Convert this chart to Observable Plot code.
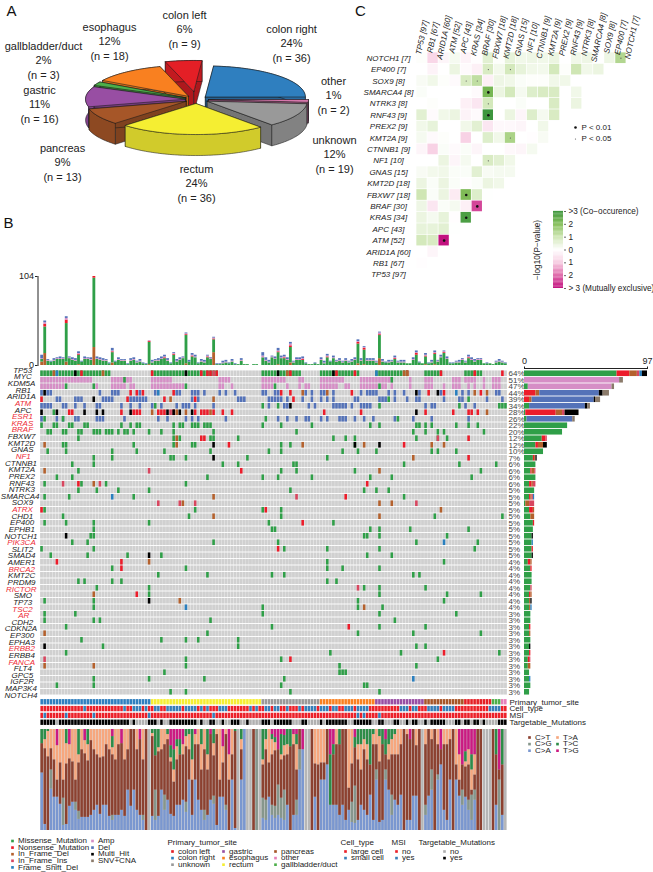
<!DOCTYPE html>
<html><head><meta charset="utf-8">
<title>Pie, oncoprint and co-occurrence chart</title>
<script src="https://cdn.jsdelivr.net/npm/d3@7"></script>
<script src="https://cdn.jsdelivr.net/npm/@observablehq/plot@0.6"></script>
<style>html,body{margin:0;padding:0;background:#fff}#page{position:relative;width:653px;height:872px;overflow:hidden}#page svg{position:absolute;overflow:visible}</style>
</head><body><div id="page"></div>
<script>
/* ---------- DATA ---------- */
const siteNames  = ["colon right","other","unknown","rectum","pancreas","gastric","gallbladder/duct","esophagus","colon left"];
const siteCounts = [36,2,19,36,13,16,3,18,9];
const sitePct    = [24,1,12,24,9,11,2,12,6];
const siteColors = ["#2f7fbf","#e67fb8","#999999","#f5ee32","#a65628","#984ea3","#4daf4a","#f98020","#e41f26"];
const sliceExplode = [12,12,12,13,12,11,12,13,26];
const sliceOrder = [8,0,7,6,5,1,2,4,3];
const trackOrder = ["colon right","rectum","unknown","esophagus","gastric","pancreas","colon left","gallbladder/duct","other"];

const heatCols = ["TP53","RB1","ARID1A","ATM","APC","KRAS","BRAF","FBXW7","KMT2D","GNAS","NF1","CTNNB1","KMT2A","PREX2","RNF43","NTRK3","SMARCA4","SOX9","EP400","NOTCH1"];
const heatColN = [97,67,60,52,43,34,30,18,18,15,10,9,9,9,9,8,8,8,7,7];
const heatRows = ["NOTCH1","EP400","SOX9","SMARCA4","NTRK3","RNF43","PREX2","KMT2A","CTNNB1","NF1","GNAS","KMT2D","FBXW7","BRAF","KRAS","APC","ATM","ARID1A","RB1","TP53"];
const heatRowN = [7,7,8,8,8,9,9,9,9,10,15,18,18,30,34,43,52,60,67,97];
const heatValues = [
 [.05,-.8,-.2,.2,-.25,-.05,.6,.05,.5,.3,.35,.3,.4,0,.3,.35,0,.35,1.4],
 [0,-.25,0,.4,-.1,-.3,.8,.25,.9,.5,.3,.25,.9,.05,1,.3,.4,0],
 [.15,.3,.05,-.1,.8,1.2,-.3,.35,.3,.1,.05,.05,.3,.3,0,0,0],
 [.1,0,0,0,0,-.1,2.2,.4,.9,.2,.7,.8,.8,0,.3,0],
 [0,.05,0,0,-.3,-.5,.9,0,0,.1,0,0,.8,0,.4],
 [.6,-.1,.3,.4,-.25,-.1,3,0,.4,-.2,.7,.2,.8,0],
 [.3,.5,0,0,.3,.6,-.5,-.15,-.15,-.2,0,.3,0],
 [.2,-.1,.05,0,-.9,0,.7,.3,1.5,0,-.05,.15],
 [-.2,-.9,.1,-.1,.1,-.2,0,0,-.15,-.2,.2],
 [0,0,.4,-.2,.2,0,.8,.6,.3,0],
 [.15,.25,.3,.1,.1,.6,.15,.2,.2],
 [.4,.1,.4,.1,-.05,.1,.4,.3],
 [1,.1,.4,-.4,2.1,.7,.02],
 [.35,-.5,.1,.2,-.3,-2.4],
 [.4,.2,.5,-.05,2.8],
 [.5,.5,.6,.02],
 [.9,.8,-3],
 [0,-.2],
 [-.04]
];
const starPairs = [["SMARCA4","BRAF"],["RNF43","BRAF"],["FBXW7","APC"],["BRAF","KRAS"],["KRAS","APC"],["ATM","ARID1A"]];
const smallPairs = [["NOTCH1","EP400"],["EP400","BRAF"],["EP400","KMT2D"],["SOX9","APC"],["SOX9","KRAS"],["NTRK3","BRAF"],["KMT2A","KMT2D"],["NF1","BRAF"]];
const heatTicks = [3,2,1,0,-1,-2,-3];

const genes = ["TP53","MYC","KDM5A","RB1","ARID1A","ATM","APC","ESR1","KRAS","BRAF","FBXW7","KMT2D","GNAS","NF1","CTNNB1","KMT2A","PREX2","RNF43","NTRK3","SMARCA4","SOX9","ATRX","CHD1","EP400","EPHB1","NOTCH1","PIK3CA","SLIT2","SMAD4","AMER1","BRCA2","KMT2C","PRDM9","RICTOR","SMO","TP73","TSC2","AR","CDH2","CDKN2A","EP300","EPHA3","ERBB2","ERBB4","FANCA","FLT4","GPC5","IGF2R","MAP3K4","NOTCH4"];
const genePct = [64,51,47,44,39,34,28,26,22,20,12,12,10,7,6,6,6,6,5,5,5,5,5,5,5,5,5,5,5,4,4,4,4,4,4,4,4,3,3,3,3,3,3,3,3,3,3,3,3,3];
const redGenes = ["ATM","ESR1","KRAS","BRAF","NF1","ATRX","PIK3CA","BRCA2","RICTOR","TSC2","AR","ERBB2","FANCA"];

const altNames = ["Missense_Mutation","Nonsense_Mutation","In_Frame_Del","In_Frame_Ins","Frame_Shift_Del","Amp","Del","Multi_Hit","SNV+CNA"];
const altColors = ["#2f9f48","#ec1c2a","#b4612d","#d8465f","#2a7fbe","#d68ec6","#5472b8","#000000","#8b7b6b"];

const ampCells = {
 MYC:"0-16 23-29 36-42 58-61 72-79 84 85 91-98 104-114 120 125-127 134-136 138-141 144 147-149",
 KDM5A:"0-7 18 23-27 29 30 36-46 58 59 62 72-75 80 84 86 87 91-96 99 100 104-109 111 112 114 120 125-127 131 134-136 139 141 144 147-149"};
const delCells = {
 RB1:"0 2 3 19 23-25 32 37 44 45 49-51 53 58 60 63 72 73 76 77 86 88 91 92 95 104 106-109 113 115 118 123 130 137 139 148 149",
 ARID1A:"5 6 11-13 20-23 29-34 49 51 64-66 74-78 80 85 88 91 93 95 102 103 110-112 115 119 122 123 131 136 137 145 150",
 ATM:"0-3 7 8 11 14 18 19 26 29 32 36 39 44 46-48 50 56 74 79 80 87 89 95-99 101 104-107 125 127 128 138 141",
 ESR1:"0 5 7 11 12 18-20 27 38 41 47 49 51 60 77 80 83 86 87 91 93 97-99 102 105 108 115 121 127 139"};
const missenseCells = {
 TP53:"0-22 36-57 72-84 91-103 109-119 125-130 138-143",MYC:"27 114",KDM5A:"8 17 47 76 110",ARID1A:"113 139",ATM:"37 72 77 110 136 149-151",APC:"4",ESR1:"1 7 73 116",
 KRAS:"0 4 5 9 10 14 15 26 29 31 32 43 45 46 49-51 53-55 72 78 88 107 110 122 123 125 127 135 139 142",
 BRAF:"2 3 7 8 12 13 17-19 21-23 25 27 28 30 35 39 43 56 83 121 125 129 131 144",
 FBXW7:"12 43 45 55 56 64 95 99 102 122 129 132",KMT2D:"7 8 30 43 49 50 78 81 102",GNAS:"2 8 23 31 40 55 74 78 98 103 109 127 129 135",NF1:"17 23 42 43 47 67 93",
 CTNNB1:"10 17 59 64 82 83 118 136 148",KMT2A:"12 78 83 102 143",PREX2:"5 10 54 72 77 88 107 114 140",RNF43:"1 13 21 47",NTRK3:"12 18 25 35 81 105 109 113",
 SMARCA4:"1 9 30 118",ATRX:"1 50 72 78",CHD1:"7 48 78 128 150",EP400:"1 8 17 35 74 95",EPHB1:"17 75 76 107 110 120 139",NOTCH1:"16 17 105 106 110 132",
 PIK3CA:"10 15 56 77 122 142",SLIT2:"0 17 79 93 110 141",SMAD4:"3 15 28 39 106 114",AMER1:"93 131",BRCA2:"23 47 93 98 110",KMT2C:"38 54 75 79 121 123",PRDM9:"12 14 23 26 93 96",
 RICTOR:"18 35 105 110 125",SMO:"35 110 132 143",TP73:"1 17 103 131",TSC2:"17 72 103 111",AR:"1 11 72 110 135",CDH2:"1 17 19 55 115",CDKN2A:"8 75 110 125",EP300:"54 103 121 143",
 EPHA3:"13 39 47 51 64",ERBB2:"20 64 122 125",ERBB4:"8 94 117 149",FANCA:"47 78 129",FLT4:"47 97 122",GPC5:"40 97 98 99",IGF2R:"17 35 53 79",MAP3K4:"5 17 78 105 106",NOTCH4:"42 47 81 110"};
const nonsenseCells = {
 TP53:"13 36 52 54 55 57 81 96 102 119 130 141 150",RB1:"29 31 33 43 78 81 101 126 131 143",ARID1A:"0 28 40 50 82",
 APC:"9 10 26 30-32 38-40 43 50 52-54 56 59 62 92 104 125 134 139 140 142",FBXW7:"52 53 139",KMT2D:"61 118",NF1:"139",KMT2A:"65",RNF43:"12 106",SMARCA4:"99",ATRX:"0 73",
 EP400:"85",SLIT2:"77",AMER1:"5 26",BRCA2:"26",SMO:"31",CDKN2A:"100",ERBB4:"131",FANCA:"81"};
const inFrameDelCells = {
 TP53:"4 20 80 118 119",RB1:"85 93 141 145",ARID1A:"42 56",APC:"36 44 47 55 145",KMT2D:"1 44 85 105 127 131",FBXW7:"44",NF1:"121",KMT2A:"1 110",RNF43:"17",SMARCA4:"56",
 SOX9:"46 110 114",ATRX:"130",CHD1:"56 110",AMER1:"35",SMO:"17",TP73:"45",TSC2:"105",EP300:"1",FLT4:"1 17"};
const inFrameInsCells = {TP53:"56",APC:"42",FBXW7:"129",KMT2A:"35",RNF43:"7 19",SMARCA4:"83",SOX9:"38 45 50 122",RICTOR:"103",FANCA:"1"};
const frameShiftCells = {TP53:"5 109",RB1:"38 135",SMARCA4:"23",PIK3CA:"131",TSC2:"47",IGF2R:"121"};
const multiHitCells = {
 TP53:"11 47 77 95",RB1:"1 122 129",ARID1A:"17",ATM:"81",APC:"0 5 14 18 20 29 41 43 45 49 122",KMT2D:"56 102 110",NF1:"56",NOTCH1:"8",SMAD4:"35",TP73:"35",ERBB2:"1"};

const barMissense = [73,0,3,0,0,4,1,2,34,30,14,9,15,7,9,5,9,4,8,4,1,4,5,7,7,6,6,6,6,3,5,6,6,5,4,4,4,5,5,4,4,5,4,4,3,3,4,4,5,4];
const barNonsense = [10,0,0,9,4,0,24,0,0,0,3,2,0,1,0,1,0,2,0,1,0,3,0,1,0,0,0,1,0,2,1,0,0,0,1,0,0,0,0,1,0,0,0,1,1,0,0,0,0,0];
const barInFrameDel = [6,0,0,3,2,0,5,0,0,0,0,4,0,1,0,2,0,1,0,1,3,1,3,0,0,0,0,0,0,1,0,0,0,0,1,1,1,0,0,0,1,0,0,0,0,2,0,0,0,0];
const barInFrameIns = [2,0,0,0,0,0,2,0,0,0,1,0,0,0,0,1,0,2,0,1,4,0,0,0,0,0,0,0,0,0,0,0,0,1,0,0,0,0,0,0,0,0,0,0,1,0,0,0,0,0];
const barFrameShift = [2,0,0,0,0,0,0,0,0,0,0,0,0,0,0,0,0,0,0,1,0,0,0,0,0,0,1,0,0,0,0,0,0,0,0,0,1,0,0,0,0,0,0,0,0,0,0,1,0,0];
const barAmp = [0,75,66,0,0,0,0,0,0,0,0,0,0,0,0,0,0,0,0,0,0,0,0,0,0,0,0,0,0,0,0,0,0,0,0,0,0,0,0,0,0,0,0,0,0,0,0,0,0,0];
const barDel = [0,0,0,47,49,44,0,36,0,0,0,0,0,0,0,0,0,0,0,0,0,0,0,0,0,0,0,0,0,0,0,0,0,0,0,0,0,0,0,0,0,0,0,0,0,0,0,0,0,0];
const barMultiHit = [4,0,0,3,1,2,11,0,0,0,0,3,0,1,0,0,0,0,0,0,0,0,0,0,0,1,0,0,1,0,0,0,0,0,0,1,0,0,0,0,0,0,1,0,0,0,0,0,0,0];
const barSnvCna = [0,3,2,5,4,2,0,2,0,0,0,0,0,0,0,0,0,0,0,0,0,0,0,0,0,0,0,0,0,0,0,0,0,0,0,0,0,0,0,0,0,0,0,0,0,0,0,0,0,0];

const tmbTotal = [
 12,52,7,5,8,9,10,9,57,10,9,8,16,5,10,9,9,104,10,9,
 8,7,3,20,5,9,7,7,2,8,9,5,7,3,2,29,6,7,8,10,
 12,8,3,15,7,9,10,38,6,14,12,3,7,6,12,9,33,2,2,5,
 6,3,7,2,1,8,1,1,0,1,1,0,15,9,6,11,10,20,11,12,
 9,27,5,9,9,10,3,1,1,3,1,9,5,13,5,11,6,8,5,8,
 5,7,9,30,8,22,8,8,8,5,39,7,4,6,6,11,5,6,6,2,
 2,9,17,4,2,14,3,6,17,6,12,17,10,3,3,5,6,8,5,12,
 9,7,8,8,2,3,2,1,5,7,5,3];
const tmbDel = [
 4,2,1,1,2,1,2,1,2,1,2,2,2,1,2,1,2,0,2,2,
 2,1,1,3,1,2,1,1,1,2,2,1,2,1,1,0,2,1,2,2,
 2,2,1,1,2,2,1,1,2,2,2,1,2,2,1,1,1,1,1,2,
 2,1,2,1,0,2,0,0,0,0,0,0,4,3,2,1,2,3,2,2,
 2,2,1,2,2,2,1,0,0,1,0,2,2,2,1,2,1,2,1,2,
 1,2,2,2,2,1,2,2,2,1,1,2,1,2,1,2,1,2,2,0,
 0,2,2,1,0,2,1,2,2,1,2,1,2,1,1,1,2,1,1,2,
 2,2,1,1,0,1,0,0,1,2,1,1];
const tmbAmp = [
 1,2,1,0,1,1,1,1,2,1,1,1,1,0,1,1,1,0,1,1,
 1,1,0,1,0,1,1,1,0,1,1,1,1,0,0,1,1,1,1,1,
 1,1,0,1,1,1,1,1,0,1,1,0,1,1,1,1,1,0,0,1,
 1,0,1,0,0,1,0,0,0,0,0,0,2,1,1,1,1,1,1,1,
 1,2,1,1,1,1,0,0,0,0,0,1,1,1,0,1,1,1,1,1,
 1,1,1,1,1,1,1,1,1,1,2,1,0,1,1,1,1,1,1,0,
 0,1,1,0,0,1,0,1,1,1,1,1,1,0,0,1,1,1,1,1,
 1,1,1,1,0,0,0,0,1,1,1,0];
const tmbNonsense = [
 0,3,0,0,0,0,0,0,4,0,0,0,1,0,0,0,0,2,0,0,
 0,0,0,1,0,0,0,0,0,0,0,0,0,0,0,1,0,0,0,0,
 1,0,0,1,0,0,0,1,0,1,0,0,0,0,1,0,1,0,0,0,
 0,0,0,0,0,0,0,0,0,0,0,0,0,0,0,0,0,1,0,1,
 0,2,0,0,0,1,0,0,0,0,0,0,0,1,0,0,0,0,0,0,
 0,0,0,2,0,2,0,0,0,0,1,0,0,0,0,1,0,0,0,0,
 0,0,2,0,0,1,0,0,1,0,0,1,0,0,0,0,0,0,0,1,
 0,0,0,0,0,0,0,0,0,0,0,0];
const tmbInFrame = [[0,4],[1,14],[8,4],[12,1],[17,21],[23,3],[35,1],[47,2],[56,15],[77,1],[81,3],[103,2],[105,1],[110,8],[125,1],[128,1]];
const tmbTicks = [0,104];

const spectrumClasses = ["C>A","C>G","C>T","T>A","T>C","T>G"];
const spectrumColors = ["#7a97d0","#86968c","#8c4130","#f6a77e","#2d8c48","#cb1a82"];
const spectrumGapSamples = [35,64,67,68,71,86,87,124,145,146,151];
const spectrumReadings = [
 [57,0,29,0,14,0],[6,0,75,9,10,0],[0,0,73,25,2,0],[41,19,21,19,0,0],[33,0,37,30,0,0],[33,0,17,34,0,16],[26,0,41,33,0,0],[5,27,18,50,0,0],[6,0,60,20,14,0],[24,0,47,14,0,15],
 [28,0,40,32,0,0],[20,8,22,50,0,0],[11,8,48,8,25,0],[13,0,67,20,0,0],[13,0,63,13,0,11],[13,0,56,16,15,0],[15,0,74,11,0,0],[20,0,60,20,0,0],[25,0,50,25,0,0],[16,0,56,28,0,0],
 [25,0,48,27,0,0],[25,0,60,15,0,0],[14,0,66,20,0,0],[10,5,60,7,11,7],[15,0,55,30,0,0],[15,0,70,15,0,0],[20,0,66,0,0,14],[14,0,56,30,0,0],[40,0,40,20,0,0],[24,0,76,0,0,0],
 [40,0,60,0,0,0],[20,0,60,20,0,0],[15,0,75,0,0,10],[10,5,55,30,0,0],[0,0,100,0,0,0],[0,0,0,0,0,0],[14,0,79,3,4,0],[10,30,34,0,26,0],[14,0,64,4,18,0],[40,0,40,20,0,0],
 [20,15,50,15,0,0],[30,0,60,5,5,0],[16,0,52,4,12,16],[14,0,34,12,20,20],[25,0,45,13,7,10],[25,0,50,0,15,10],[30,0,45,10,0,15],[18,10,55,10,7,0],[50,0,30,15,5,0],[15,0,35,20,30,0],
 [50,0,35,10,0,5],[30,0,55,15,0,0],[20,0,40,25,15,0],[10,10,60,20,0,0],[15,0,45,15,25,0],[30,0,65,0,0,5],[26,8,40,12,14,0],[5,0,90,5,0,0],[33,0,17,50,0,0],[33,0,34,16,0,17],
 [20,5,70,5,0,0],[0,0,50,25,0,25],[50,0,25,25,0,0],[2,0,96,0,2,0],[0,0,0,0,0,0],[50,0,30,10,10,0],[100,0,0,0,0,0],[0,0,0,0,0,0],[0,0,0,0,0,0],[0,0,100,0,0,0],
 [0,100,0,0,0,0],[0,0,0,0,0,0],[12,20,33,5,30,0],[10,20,50,10,10,0],[33,0,34,33,0,0],[15,10,50,15,5,5],[12,12,55,8,5,8],[15,30,35,0,0,20],[12,20,38,5,20,5],[10,30,34,10,10,6],
 [25,0,50,10,15,0],[0,0,83,0,17,0],[15,0,70,10,0,5],[15,15,30,25,10,5],[60,20,20,0,0,0],[80,0,0,0,0,20],[0,0,0,0,0,0],[0,0,0,0,0,0],[0,0,100,0,0,0],[33,0,33,34,0,0],
 [0,0,65,35,0,0],[50,0,17,33,0,0],[50,0,17,33,0,0],[65,0,35,0,0,0],[25,0,0,0,50,25],[25,0,50,0,10,15],[25,0,60,15,0,0],[15,0,70,0,15,0],[25,0,75,0,0,0],[10,0,90,0,0,0],
 [20,0,22,58,0,0],[8,20,38,34,0,0],[7,37,38,0,10,8],[10,0,60,15,15,0],[25,0,35,25,15,0],[20,0,60,10,10,0],[15,0,55,15,15,0],[35,0,30,0,35,0],[10,0,75,10,5,0],[50,10,25,15,0,0],
 [8,0,60,25,7,0],[10,0,75,0,15,0],[50,10,15,0,15,10],[40,0,30,15,15,0],[15,20,40,15,10,0],[30,0,45,20,5,0],[25,0,50,25,0,0],[35,0,50,15,0,0],[0,0,100,0,0,0],[10,0,85,5,0,0],
 [10,0,80,0,0,10],[34,0,66,0,0,0],[34,0,50,16,0,0],[0,0,100,0,0,0],[0,0,0,0,0,0],[15,10,60,15,0,0],[34,0,66,0,0,0],[40,20,30,10,0,0],[0,0,100,0,0,0],[50,5,30,15,0,0],
 [65,0,15,0,0,20],[20,0,65,15,0,0],[10,0,75,15,0,0],[50,0,40,10,0,0],[0,0,100,0,0,0],[50,0,15,35,0,0],[34,0,16,25,0,25],[25,15,25,0,0,35],[33,0,30,5,10,22],[20,10,35,15,0,20],
 [10,25,5,20,15,25],[30,10,15,20,0,25],[0,0,100,0,0,0],[0,0,100,0,0,0],[0,0,0,0,0,0],[0,0,0,0,0,0],[100,0,0,0,0,0],[0,0,100,0,0,0],[25,0,50,0,25,0],[0,50,10,0,0,40],
 [15,0,50,0,35,0],[0,0,0,0,0,0]];

const trackNames = ["Primary_tumor_site","Cell_type","MSI","Targetable_Mutations"];
const smallCellSamples = [14,27,30,31,32,34,37,38,41,42,43,44,45,47,48,49,50,52,54,58,59,60,68,70,73,74,76,77,80,84,86,87,88,89,91,92,93,95,96,99,100,101,103,104,105,106,117,118,119,121,122,126,127,128,129,131,132,133,134,146,147,148,149];
const msiYesSamples = [1,8,17,35,56,103,105,110];
const notTargetableSamples = [5,29,31,32,33,34,38,40,41,51,53,54,57,58,60,61,65,66,68,69,70,71,75,82,83,84,87,88,89,90,92,100,101,108,109,112,113,114,117,118,120,123,124,126,132,133,134,137,140,143,145,146,147,148];

/* ---------- HELPERS ---------- */
const FONT = "Liberation Sans, Arial, Helvetica, sans-serif";
const page = document.getElementById("page");
const N = 152;
const samples = d3.range(N);
function place(options, left, top) {
  const svg = Plot.plot({margin:0, style:{fontFamily:FONT, background:"none", overflow:"visible"}, ...options});
  svg.style.left = left + "px"; svg.style.top = top + "px";
  page.appendChild(svg);
  return svg;
}
/* tightly stacked 8px rows: keep the drawn width, lower the glyph height, as in the figure */
function squeeze(svg) {
  svg.querySelectorAll("text").forEach(t => {
    if (getComputedStyle(t).fontSize !== "8px") return;
    const w = t.getComputedTextLength();
    t.setAttribute("textLength", w);
    t.setAttribute("lengthAdjust", "spacingAndGlyphs");
    t.style.fontSize = "7px";
  });
  return svg;
}
const parseRuns = s => s.trim().split(/\s+/).flatMap(t => {
  const [a,b] = t.split("-").map(Number);
  return b === undefined ? [a] : d3.range(a,b+1);
});
const colorOfAlt = Object.fromEntries(altNames.map((n,i)=>[n,altColors[i]]));
const siteColor = Object.fromEntries(siteNames.map((n,i)=>[n,siteColors[i]]));
const heatScale = {type:"linear",domain:[-3,-2,-1,0,1,2,3],range:["#c2127f","#df6aaa","#f7cde2","#ffffff","#cfe6b4","#86bf5a","#3d963e"]};

/* ---------- A: 3D pie built from the counts ---------- */
(function(){
  const rx=100, ry=31, depth=21, cx=196, cy=99;
  const total=d3.sum(siteCounts);
  let acc=90-siteCounts[0]/total*360;
  const slices=siteNames.map((name,i)=>{
    const a0=acc, a1=acc+siteCounts[i]/total*360; acc=a1;
    return {name,i,a0,a1,color:siteColors[i]};
  });
  const polys=[];
  let pid=0;
  const add=(pts,fill)=>{const id=pid++; for(const p of [...pts,pts[0]]) polys.push({id,x:p[0],y:p[1],fill});};
  for(const k of sliceOrder){
    const s=slices[k], mid=(s.a0+s.a1)/2*Math.PI/180, e=sliceExplode[k];
    const ax=cx+e*Math.sin(mid), ay=cy-e*ry/rx*Math.cos(mid);
    const rim=d3.range(s.a0,s.a1,1.5).concat([s.a1]).map(d=>{const t=d*Math.PI/180;return [ax+rx*Math.sin(t),ay-ry*Math.cos(t)];});
    const down=p=>[p[0],p[1]+depth];
    const side=d3.color(s.color).darker(.45).formatHex(), inner=d3.color(s.color).darker(.75).formatHex();
    const apex=[ax,ay], r0=rim[0], r1=rim[rim.length-1];
    add([apex,r0,down(r0),down(apex)],inner);
    add([apex,r1,down(r1),down(apex)],inner);
    add([...rim,...rim.slice().reverse().map(down)],side);
    add([apex,...rim],s.color);
  }
  const labelPos={"colon left":[184,15],"esophagus":[109,27],"gallbladder/duct":[43,46],"gastric":[39,90],"pancreas":[62,148],"rectum":[196,169],"unknown":[334,140],"other":[333,81],"colon right":[291,29]};
  const lines=siteNames.flatMap((n,i)=>[n,sitePct[i]+"%","(n = "+siteCounts[i]+")"].map((t,j)=>({t,x:labelPos[n][0],y:labelPos[n][1]+j*14.4})));
  place({width:360,height:205,x:{domain:[0,360],range:[0,360],axis:null},y:{domain:[0,205],range:[0,205],axis:null},color:{type:"identity"},
    marks:[
      Plot.line(polys,{x:"x",y:"y",z:"id",fill:"fill",stroke:"#1a1a1a",strokeWidth:.55}),
      Plot.text(lines,{x:"x",y:"y",text:"t",fontSize:11,fill:"#222"})
    ]},0,0);
})();

/* ---------- C: co-occurrence triangle ---------- */
(function(){
  const cells=heatValues.flatMap((r,i)=>r.map((v,j)=>({row:heatRows[i],col:heatCols[j],v})));
  const colLabel=Object.fromEntries(heatCols.map((c,i)=>[c,c+" ["+heatColN[i]+"]"]));
  const rowLabel=Object.fromEntries(heatRows.map((c,i)=>[c,c+" ["+heatRowN[i]+"]"]));
  const pairs=a=>a.map(([row,col])=>({row,col}));
  place({width:303,height:290,marginLeft:66,marginRight:16,marginTop:52,marginBottom:10,
    x:{domain:heatCols,axis:null,round:false,padding:0},y:{domain:heatRows,axis:null,round:false,padding:0},
    color:heatScale,
    marks:[
      Plot.cell(cells,{x:"col",y:"row",fill:"v",inset:.35}),
      Plot.dot(pairs(starPairs),{x:"col",y:"row",r:1.3,fill:"#111"}),
      Plot.dot(pairs(smallPairs),{x:"col",y:"row",r:.6,fill:"#555"}),
      Plot.text(heatCols,{x:d=>d,text:d=>colLabel[d],frameAnchor:"top",dy:-15,rotate:-78,textAnchor:"middle",lineAnchor:"middle",fontStyle:"italic",fontSize:8,fill:"#222"}),
      Plot.text(heatRows,{y:d=>d,text:d=>rowLabel[d],frameAnchor:"left",dx:-28,textAnchor:"middle",lineAnchor:"middle",fontStyle:"italic",fontSize:8,fill:"#222"})
    ]},350,0);
  place({width:118,height:90,marginLeft:18,marginRight:90,marginTop:6,marginBottom:7,
    x:{domain:[0,1],axis:null},y:{domain:[-3,3],axis:null},
    color:heatScale,
    marks:[
      Plot.rect(d3.range(-3,3,.1),{x1:0,x2:1,y1:d=>d,y2:d=>d+.11,fill:d=>d+.05}),
      Plot.axisY({anchor:"right",label:null,ticks:heatTicks,tickSize:2,tickPadding:3,fontSize:8.2,stroke:"#666",fill:"#222",
        tickFormat:d=>d===3?">3 (Co\u2212occurence)":d===-3?"> 3 (Mutually exclusive)":String(Math.abs(d))}),
      Plot.text(["\u2212log10(P\u2212value)"],{frameAnchor:"left",dx:-16,rotate:-90,textAnchor:"middle",lineAnchor:"middle",fontSize:8.2,fill:"#222"})
    ]},535,205);
})();

/* ---------- B: top per-sample bars ---------- */
(function(){
  const inFrame=new Map(tmbInFrame);
  const rows=samples.flatMap(i=>{
    const b=inFrame.get(i)||0,n=tmbNonsense[i],a=tmbAmp[i],d=tmbDel[i];
    const m=Math.max(tmbTotal[i]-b-n-a-d,0);
    const scale=tmbTotal[i]===0?0:Math.min(1,tmbTotal[i]/(b+n+a+d+m));
    return [["In_Frame_Del",b],["Missense_Mutation",m],["Nonsense_Mutation",n],["Amp",a],["Del",d]].map(([type,value])=>({i,type,value:value*scale}));
  });
  place({width:510,height:95,marginLeft:40,marginRight:3,marginTop:4,marginBottom:2,
    x:{domain:samples,axis:null,round:false,padding:.08},y:{domain:[0,104],axis:null},color:{type:"identity"},
    marks:[
      Plot.barY(rows,{x:"i",y:"value",fill:d=>colorOfAlt[d.type]}),
      Plot.frame({anchor:"left",stroke:"#222",strokeWidth:1,dx:-2.5}),
      Plot.axisY({label:null,ticks:tmbTicks,tickSize:2.5,tickPadding:1.5,dx:-2.5,fontSize:9,fill:"#222",stroke:"#222",tickFormat:d=>String(d)})
    ]},0,272);
})();

/* ---------- B: oncoprint ---------- */
(function(){
  const layers=[[ampCells,"Amp"],[delCells,"Del"],[missenseCells,"Missense_Mutation"],[nonsenseCells,"Nonsense_Mutation"],[inFrameDelCells,"In_Frame_Del"],[inFrameInsCells,"In_Frame_Ins"],[frameShiftCells,"Frame_Shift_Del"],[multiHitCells,"Multi_Hit"]];
  const cells=layers.flatMap(([obj,type])=>Object.entries(obj).flatMap(([g,runs])=>parseRuns(runs).map(i=>({g,i,type}))));
  const bg=genes.flatMap(g=>samples.map(i=>({g,i})));
  const yOpts={domain:genes,axis:null,round:false,padding:0};
  squeeze(place({width:524,height:331,marginLeft:40,marginRight:17,marginTop:3,marginBottom:3,
    x:{domain:samples,axis:null,round:false,padding:0},y:yOpts,color:{type:"identity"},
    marks:[
      Plot.cell(bg,{x:"i",y:"g",fill:"#d0d0d0",insetLeft:.12,insetRight:.12,insetTop:.45,insetBottom:.45}),
      Plot.cell(cells,{x:"i",y:"g",fill:d=>colorOfAlt[d.type],insetLeft:.25,insetRight:.25,insetTop:.45,insetBottom:.45}),
      Plot.text(genes,{y:d=>d,text:(d,i)=>genePct[i]+"%",frameAnchor:"right",textAnchor:"start",dx:1,fontSize:8,fill:"#444"})
    ]},0,367));
  /* gene names */
  const ctx=document.createElement("canvas").getContext("2d");
  ctx.font="italic 8px Liberation Sans";
  const labels=genes.map(g=>{const w=ctx.measureText(g).width;return {g,x:24.7-.13*w};});
  squeeze(place({width:40,height:331,marginTop:3,marginBottom:3,x:{domain:[0,40],range:[0,40],axis:null},y:yOpts,color:{type:"identity"},
    marks:[Plot.text(labels,{x:"x",y:"g",text:"g",fontStyle:"italic",fontSize:8,fill:d=>redGenes.includes(d.g)?"#ee2a35":"#222"})]},0,367));
  /* right stacked bars */
  const series=[barMissense,barNonsense,barInFrameDel,barInFrameIns,barFrameShift,barAmp,barDel,barMultiHit,barSnvCna];
  const rows=genes.flatMap((g,k)=>altNames.map((type,t)=>({g,type,value:series[t][k]})));
  place({width:129,height:331,marginLeft:0,marginRight:6,marginTop:3,marginBottom:3,
    x:{domain:[0,97],range:[0,123],axis:null},y:yOpts,color:{type:"identity"},
    marks:[
      Plot.barX(rows,{x:"value",y:"g",fill:d=>colorOfAlt[d.type],insetTop:.45,insetBottom:.45}),
      Plot.axisX({anchor:"top",label:null,ticks:[0,97],tickSize:2.5,tickPadding:2.5,dy:-2,fontSize:9,fill:"#222",stroke:"#222",tickFormat:d=>String(d)}),
      Plot.frame({anchor:"top",stroke:"#222",strokeWidth:1,dy:-2})
    ]},524,367);
})();

/* ---------- B: annotation tracks ---------- */
(function(){
  const siteOfSample=trackOrder.flatMap(n=>d3.range(siteCounts[siteNames.indexOf(n)]).map(()=>n));
  const small=new Set(smallCellSamples), msi=new Set(msiYesSamples), nt=new Set(notTargetableSamples);
  const cells=samples.flatMap(i=>[
    {i,t:trackNames[0],f:siteColor[siteOfSample[i]]},
    {i,t:trackNames[1],f:small.has(i)?"#377eb8":"#ec2029"},
    {i,t:trackNames[2],f:msi.has(i)?"#377eb8":"#ec2029"},
    {i,t:trackNames[3],f:nt.has(i)?"#b0b0b0":"#000000"}
  ]);
  squeeze(place({width:653,height:30,marginLeft:40,marginRight:146,marginTop:1,marginBottom:1,
    x:{domain:samples,axis:null,round:false},y:{domain:trackNames,axis:null,round:false},color:{type:"identity"},
    marks:[
      Plot.cell(cells,{x:"i",y:"t",fill:"f",insetTop:.4,insetBottom:.4,insetLeft:.1,insetRight:.1}),
      Plot.text(trackNames,{y:d=>d,frameAnchor:"right",textAnchor:"start",dx:2,fontSize:8,fill:"#222"})
    ]},0,697));
})();

/* ---------- B: mutation spectra ---------- */
(function(){
  const gap=new Set(spectrumGapSamples);
  const rows=samples.flatMap(i=>gap.has(i)?[]:spectrumClasses.map((c,k)=>({i,c,v:spectrumReadings[i][k],f:spectrumColors[k]})));
  place({width:510,height:101,marginLeft:40,marginRight:3,
    x:{domain:samples,axis:null,round:false},y:{domain:[0,100],axis:null},color:{type:"identity"},
    marks:[
      Plot.barY(samples,{x:d=>d,y1:0,y2:100,fill:"#b6b6b6",insetLeft:.1,insetRight:.1}),
      Plot.barY(rows,{x:"i",y:"v",fill:"f",insetLeft:.1,insetRight:.1})
    ]},0,729);
})();

/* ---------- legends, panel letters ---------- */
(function(){
  const dots=[], txt=[];
  const group=(labels,colors,x,y0,dy=6.6,off=5.5)=>labels.forEach((l,i)=>{dots.push({x,y:y0+i*dy,f:colors[i]});txt.push({x:x+off,y:y0+i*dy,t:l});});
  group(altNames.slice(0,5),altColors.slice(0,5),12,840.5);
  group(altNames.slice(5),altColors.slice(5),92,840.5);
  const sc=n=>siteColor[n];
  group(["colon left","colon right","unknown"],["colon left","colon right","unknown"].map(sc),172,851);
  group(["gastric","esophagus","rectum"],["gastric","esophagus","rectum"].map(sc),223,851);
  group(["pancreas","other","gallbladder/duct"],["pancreas","other","gallbladder/duct"].map(sc),275,851);
  group(["large cell","small cell"],["#ec2029","#377eb8"],345,851);
  group(["no","yes"],["#ec2029","#377eb8"],396,851);
  group(["no","yes"],["#b0b0b0","#000000"],444,851);
  group(["C>T","C>G","C>A"],["#8c4130","#86968c","#7a97d0"],529,737);
  group(["T>A","T>C","T>G"],["#f6a77e","#2d8c48","#cb1a82"],557,737);
  const heads=[["Primary_tumor_site",167],["Cell_type",340],["MSI",391],["Targetable_Mutations",418]].map(([t,x])=>({t,x,y:842}));
  const letters=[["A",11,11],["B",8,223],["C",360,11]].map(([t,x,y])=>({t,x,y}));
  const pLegend=[{t:"P < 0.01",y:127},{t:"P < 0.05",y:138.5}];
  squeeze(place({width:653,height:872,x:{domain:[0,653],range:[0,653],axis:null},y:{domain:[0,872],range:[0,872],axis:null},color:{type:"identity"},
    marks:[
      Plot.dot(dots,{x:"x",y:"y",fill:"f",symbol:"square",r:1.5}),
      Plot.text(txt,{x:"x",y:"y",text:"t",textAnchor:"start",fontSize:8,fill:"#222"}),
      Plot.text(heads,{x:"x",y:"y",text:"t",textAnchor:"start",fontSize:8,fill:"#222"}),
      Plot.text(letters,{x:"x",y:"y",text:"t",fontSize:15,fill:"#111"}),
      Plot.dot(pLegend.slice(0,1),{x:575,y:"y",r:1.3,fill:"#111"}),
      Plot.dot(pLegend.slice(1),{x:575,y:"y",r:.6,fill:"#555"}),
      Plot.text(pLegend,{x:581,y:"y",text:"t",textAnchor:"start",fontSize:8,fill:"#222"})
    ]},0,0));
})();
</script></body></html>
